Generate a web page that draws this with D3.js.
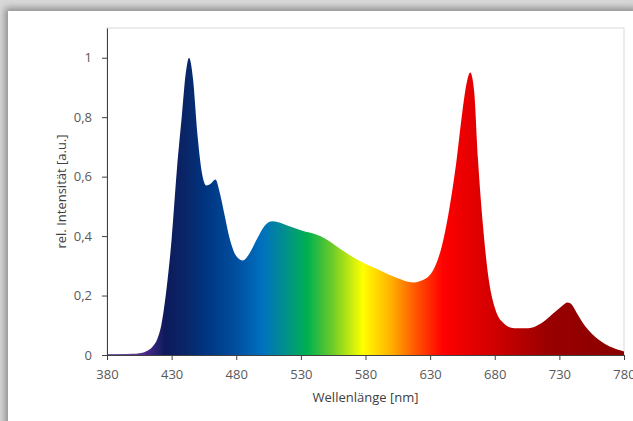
<!DOCTYPE html>
<html>
<head>
<meta charset="utf-8">
<script src="https://cdn.jsdelivr.net/npm/d3@7"></script>
<style>
  html, body { margin: 0; padding: 0; background: #fff; }
  svg { display: block; }
  .tick text { font-family: 'Open Sans', sans-serif; font-size: 13px; fill: #595959; }
  .label { font-family: 'Open Sans', sans-serif; font-size: 13px; fill: #404040; }
</style>
</head>
<body>
<svg id="chart" width="633" height="421"></svg>
<script>
// spectrum (nm, relative intensity)
const wavelength = [380, 390, 400, 405, 410, 415, 419, 422, 426, 430, 434, 438, 441, 443.5, 446.5, 450,
    454, 457, 460, 464, 467, 471, 475, 480, 485, 490, 496, 502, 508, 514, 520, 530, 545, 553, 560, 576,
    591, 604, 617, 627, 634, 639, 644, 650, 655, 658.5, 661, 664, 667, 671, 675, 680, 685, 695, 706,
    716, 727, 733, 736, 739, 743, 750, 761, 771, 780]
const intensity = [0.003, 0.003, 0.004, 0.006, 0.012, 0.027, 0.055, 0.10, 0.22, 0.39, 0.62, 0.81, 0.95, 1.0, 0.93, 0.74,
    0.60, 0.57, 0.575, 0.59, 0.55, 0.47, 0.39, 0.333, 0.318, 0.34, 0.39, 0.435, 0.45, 0.445, 0.435, 0.42, 0.40, 0.38, 0.358, 0.315,
    0.285, 0.26, 0.244, 0.258, 0.30, 0.365, 0.47, 0.64, 0.82, 0.92, 0.95, 0.89, 0.66, 0.43, 0.265, 0.16, 0.115, 0.09, 0.09,
    0.107, 0.146, 0.168, 0.177, 0.172, 0.145, 0.097, 0.05, 0.025, 0.012]

const xTicks = [380, 430, 480, 530, 580, 630, 680, 730, 780]
const yTicks = [0, 0.2, 0.4, 0.6, 0.8, 1]

// colour of the fill along the wavelength axis
const stopNm = [380, 410, 425, 440, 455, 480, 500, 518, 535, 555, 578, 600, 620, 640, 680, 720, 780]
const stopColor = ['#7a62aa', '#4b2a8a', '#0d1a5c', '#0a2566', '#00337f', '#004f9f', '#0070c0', '#00908c',
    '#00b050', '#70cc28', '#ffff00', '#ffb000', '#ff5000', '#ff0000', '#d00000', '#9a0000', '#8a0000']

const svg = d3.select('#chart')
const margin = {left: 107, right: 9, top: 28, bottom: 66}
const W = 633, H = 421

// frame with a soft shadow (the picture is a screenshot of a card)
const defs = svg.append('defs')
const blur = defs.append('filter').attr('id', 'shadow')
    .attr('x', '-5%').attr('y', '-5%').attr('width', '110%').attr('height', '110%')
blur.append('feGaussianBlur').attr('stdDeviation', 3.5)

svg.append('rect').attr('width', W).attr('height', H).attr('fill', '#d8d8d8')
svg.append('rect').attr('x', 5).attr('y', 8).attr('width', W).attr('height', H)
    .attr('fill', '#8c8c8c').attr('filter', 'url(#shadow)')
svg.append('rect').attr('x', 8).attr('y', 11).attr('width', W).attr('height', H).attr('fill', '#fff')

let xScale = d3.scaleLinear().domain([380, 780]).range([margin.left, W - margin.right])
let yScale = d3.scaleLinear().domain([0, 1.1]).range([H - margin.bottom, margin.top])

// plot area border
svg.append('rect')
    .attr('x', xScale(380)).attr('y', yScale(1.1))
    .attr('width', xScale(780) - xScale(380)).attr('height', yScale(0) - yScale(1.1))
    .attr('fill', 'none').attr('stroke', '#d9d9d9').attr('stroke-width', 1)

const grad = defs.append('linearGradient').attr('id', 'spectrum')
    .attr('gradientUnits', 'userSpaceOnUse')
    .attr('x1', xScale(380)).attr('x2', xScale(780)).attr('y1', 0).attr('y2', 0)
grad.selectAll('stop')
    .data(stopNm)
    .enter()
    .append('stop')
    .attr('offset', d => (d - 380) / 400)
    .attr('stop-color', (d, i) => stopColor[i])

const area = d3.area()
    .x((d, i) => xScale(wavelength[i]))
    .y0(yScale(0))
    .y1((d, i) => yScale(intensity[i]))
    .curve(d3.curveMonotoneX)

svg.append('path')
    .datum(wavelength)
    .attr('d', area)
    .attr('fill', 'url(#spectrum)')

//axes
let xAxis = d3.axisBottom(xScale).tickValues(xTicks).tickSize(5).tickSizeOuter(0).tickPadding(10)
let yAxis = d3.axisLeft(yScale).tickValues(yTicks).tickSize(5).tickSizeOuter(0).tickPadding(10)
    .tickFormat(d => String(d).replace('.', ','))

const gx = svg.append('g')
    .attr('transform', `translate(0, ${yScale(0)})`)
    .call(xAxis)
const gy = svg.append('g')
    .attr('transform', `translate(${xScale(380)}, 0)`)
    .call(yAxis)
gx.select('.domain').attr('stroke', '#404040')
gy.select('.domain').attr('stroke', '#404040')
gx.selectAll('.tick line').attr('stroke', '#404040')
gy.selectAll('.tick line').attr('stroke', '#404040')

//labels for axes
svg.append('text')
    .attr('class', 'label')
    .attr('x', (xScale(380) + xScale(780)) / 2)
    .attr('y', 402)
    .attr('text-anchor', 'middle')
    .text('Wellenlänge [nm]')
svg.append('g')
    .attr('transform', `translate(66, ${(yScale(0) + yScale(1.1)) / 2}) rotate(270)`)
    .append('text')
    .attr('class', 'label')
    .attr('text-anchor', 'middle')
    .text('rel. Intensität [a.u.]')
</script>
</body>
</html>
